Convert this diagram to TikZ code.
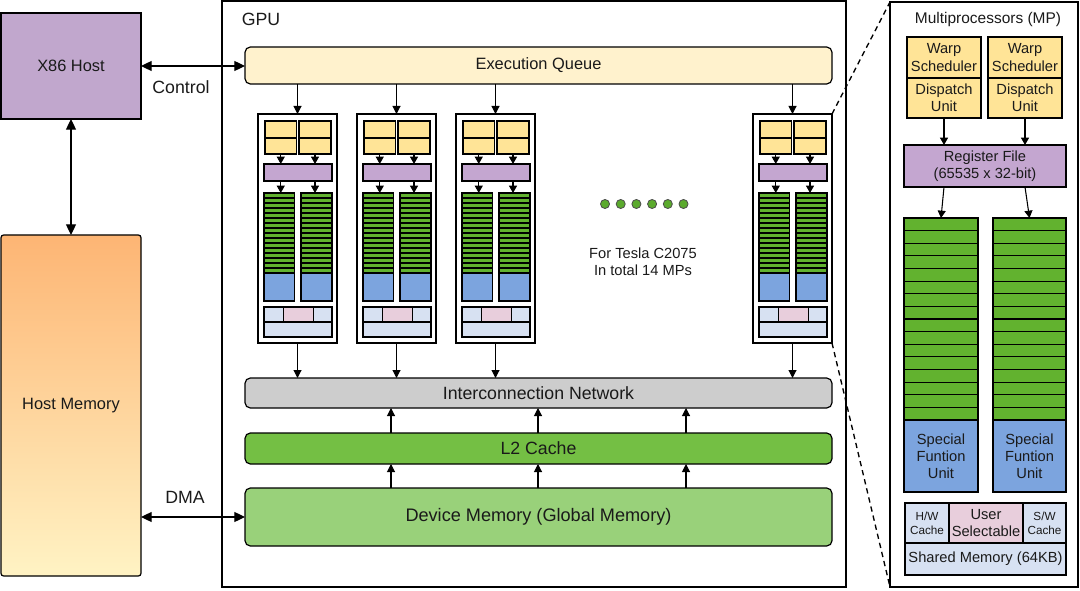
\documentclass[tikz,border=0pt]{standalone}
\usepackage{fontspec}
\setmainfont{Liberation Sans}
\usetikzlibrary{arrows.meta,calc}
\definecolor{hostpur}{HTML}{C1A7CD}
\definecolor{regpur}{HTML}{C4A6D0}
\definecolor{warpyel}{HTML}{FFE497}
\definecolor{eqyel}{HTML}{FFF2CD}
\definecolor{strgreen}{HTML}{62B22F}
\definecolor{l2green}{HTML}{74BF44}
\definecolor{dmgreen}{HTML}{99D17A}
\definecolor{sfblue}{HTML}{7CA4DE}
\definecolor{cachelb}{HTML}{D7E1F2}
\definecolor{cachepk}{HTML}{E8CEDC}
\definecolor{icgray}{HTML}{CDCDCD}
\definecolor{hmtop}{HTML}{FDB574}
\definecolor{hmbot}{HTML}{FFF3C4}
\definecolor{dotgreen}{HTML}{5BAA2D}
\definecolor{txt}{HTML}{1A1A1A}
\newcommand{\bx}[7]{%
  \pgfmathsetmacro{\myBW}{((#5)-(#3))*0.75}%
  \pgfmathsetmacro{\myBH}{((#6)-(#4))*0.75}%
  \node[inner sep=0pt,outer sep=0pt,#2,minimum width=\myBW pt,minimum height=\myBH pt] (#1) at ({((#3)+(#5))/2},{((#4)+(#6))/2}) {#7};%
}
\tikzset{
  every node/.style={text=txt},
  fA/.style={font=\fontsize{12.3}{14}\selectfont},
  fB/.style={font=\fontsize{13.3}{15}\selectfont},
  fC/.style={font=\fontsize{11}{12.8}\selectfont},
  fD/.style={font=\fontsize{11}{12.4}\selectfont},
  fE/.style={font=\fontsize{8.8}{10.5}\selectfont},
  box/.style={draw=black,line width=0.9pt},
  frame/.style={draw=black,line width=0.8pt},
  blk/.style={draw=black,line width=1.2pt,fill=white},
  yel/.style={box,fill=warpyel},
  pur/.style={box,fill=regpur},
  grn/.style={box,fill=strgreen},
  blu/.style={box,fill=sfblue},
  lb/.style={box,fill=cachelb},
  pnk/.style={box,fill=cachepk},
  bar/.style={box,rounded corners=4pt},
  stripe/.style={line width=0.85pt,draw=black},
  arr/.style={line width=0.8pt,-{Triangle[length=6pt,width=6pt]}},
  sar/.style={line width=0.8pt,-{Triangle[length=5.5pt,width=6pt]}},
  harr/.style={line width=0.9pt,{Triangle[length=8pt,width=7.5pt]}-{Triangle[length=8pt,width=7.5pt]}},
  dsh/.style={line width=1pt,dash pattern=on 4pt off 3pt},
  dot/.style={circle,draw=black!70,line width=0.6pt,fill=dotgreen,minimum size=6.8pt,inner sep=0pt},
}
\begin{document}
\begin{tikzpicture}[x=0.75pt,y=-0.75pt]
\useasboundingbox (0,0) rectangle (1080,591);
% host side
\bx{x86}{box,fill=hostpur,fA}{1}{13}{141}{119}{X86 Host}
\bx{hm}{box,rounded corners=2pt,top color=hmtop,bottom color=hmbot,fA}{1}{235}{141}{576}{Host Memory}
% GPU frame
\bx{gpu}{frame}{222}{1}{846}{587}{}
\node[fB] (gpulbl) at (261,19) {GPU};
\bx{eq}{bar,fill=eqyel,fA}{245}{47}{832}{84}{Execution Queue}
\bx{ic}{bar,fill=icgray,fB}{245}{378}{832}{408}{Interconnection Network}
\bx{l2}{bar,fill=l2green,fB}{245}{433}{832}{464}{L2 Cache}
\bx{dm}{bar,fill=dmgreen,font=\fontsize{13.6}{15}\selectfont}{245}{488}{832}{546}{Device Memory (Global Memory)}
% host connectors
\draw[harr] (x86.east) -- (x86.east -| eq.west);
\node[fB] (ctl) at (181,87) {Control};
\draw[harr] (x86.south) -- (hm.north);
\draw[harr] (dm.west -| hm.east) -- (dm.west);
\node[fB] (dma) at (185,497) {DMA};
% MP blocks
\foreach \L/\n in {258/1,357/2,456/3,753/4} {
  \bx{mp\n}{blk}{\L}{114}{\L+79}{343}{}
  \bx{ya\n}{yel}{\L+7}{121}{\L+38.5}{138}{}
  \bx{yb\n}{yel}{\L+7}{138}{\L+38.5}{154}{}
  \bx{yc\n}{yel}{\L+41}{121}{\L+73}{138}{}
  \bx{yd\n}{yel}{\L+41}{138}{\L+73}{154}{}
  \bx{pr\n}{pur}{\L+6}{164}{\L+74}{181}{}
  \bx{ga\n}{grn}{\L+6}{193}{\L+36.5}{273}{}
  \bx{gb\n}{grn}{\L+43}{193}{\L+74}{273}{}
  \foreach \k in {1,...,15} {
    \draw[stripe] (\L+6,193+5*\k) -- (\L+36.5,193+5*\k);
    \draw[stripe] (\L+43,193+5*\k) -- (\L+74,193+5*\k);
  }
  \draw[box] (ga\n.north west) rectangle (ga\n.south east);
  \draw[box] (gb\n.north west) rectangle (gb\n.south east);
  \bx{ba\n}{blu}{\L+6}{273}{\L+36.5}{301}{}
  \bx{bb\n}{blu}{\L+43}{273}{\L+74}{301}{}
  \bx{ca\n}{lb}{\L+6}{307}{\L+25.5}{322}{}
  \bx{cb\n}{pnk}{\L+25.5}{307}{\L+55.5}{322}{}
  \bx{cc\n}{lb}{\L+55.5}{307}{\L+74}{322}{}
  \bx{cd\n}{lb}{\L+6}{322}{\L+74}{337}{}
  \draw[sar] (yb\n.south) -- (yb\n.south |- pr\n.north);
  \draw[sar] (yd\n.south) -- (yd\n.south |- pr\n.north);
  \draw[sar] (pr\n.south -| yb\n.south) -- (yb\n.south |- ga\n.north);
  \draw[sar] (pr\n.south -| yd\n.south) -- (yd\n.south |- gb\n.north);
  \draw[arr] (mp\n.north |- eq.south) -- (mp\n.north);
  \draw[arr] (mp\n.south) -- (mp\n.south |- ic.north);
}
% up arrows
\foreach \x/\n in {391/1,538/2,686/3} {
  \coordinate (u\n) at (\x,0);
  \draw[arr] (u\n |- l2.north) -- (u\n |- ic.south);
  \draw[arr] (u\n |- dm.north) -- (u\n |- l2.south);
}
% dots and note
\foreach \i in {0,...,5} \node[dot] (d\i) at (605+15.7*\i,204) {};
\node[fC,align=center] (note) at (643,262) {For Tesla C2075\\In total 14 MPs};
% right panel
\bx{mpp}{frame}{890}{2}{1078}{587}{}
\node[font=\fontsize{11.6}{13}\selectfont] (mptitle) at (988,20) {Multiprocessors (MP)};
\bx{ws1}{yel,fC,align=center}{907}{37}{981}{78}{Warp\\Scheduler}
\bx{du1}{yel,fC,align=center}{907}{78}{981}{118}{Dispatch\\Unit}
\bx{ws2}{yel,fC,align=center}{988}{37}{1062}{78}{Warp\\Scheduler}
\bx{du2}{yel,fC,align=center}{988}{78}{1062}{118}{Dispatch\\Unit}
\bx{rf}{pur,fC,align=center}{904}{145}{1066}{187}{Register File\\(65535 x 32-bit)}
\bx{gc1}{grn}{904}{218}{978}{420}{}
\bx{gc2}{grn}{993}{218}{1066}{420}{}
\foreach \k in {1,...,15} {
  \draw[stripe] (904,218+12.625*\k) -- (978,218+12.625*\k);
  \draw[stripe] (993,218+12.625*\k) -- (1066,218+12.625*\k);
}
\draw[box] (gc1.north west) rectangle (gc1.south east);
\draw[box] (gc2.north west) rectangle (gc2.south east);
\bx{sf1}{blu,fC,align=center}{904}{420}{978}{492}{Special\\Funtion\\Unit}
\bx{sf2}{blu,fC,align=center}{993}{420}{1066}{492}{Special\\Funtion\\Unit}
\bx{hw}{lb,fE,align=center}{905}{503}{949}{543}{H/W\\Cache}
\bx{us}{pnk,fD,align=center}{949}{503}{1023}{543}{User\\Selectable}
\bx{sw}{lb,fE,align=center}{1023}{503}{1066}{543}{S/W\\Cache}
\bx{sm}{lb,fD}{905}{543}{1066}{575}{Shared Memory (64KB)}
\draw[sar] (du1.south) -- (du1.south |- rf.north);
\draw[sar] (du2.south) -- (du2.south |- rf.north);
\draw[sar] (rf.south -| du1.south) -- (gc1.north);
\draw[sar] (rf.south -| du2.south) -- (gc2.north);
% zoom dashes
\draw[dsh] (mp4.north east) -- (mpp.north west);
\draw[dsh] (mp4.south east) -- (mpp.south west);
\end{tikzpicture}
\end{document}
